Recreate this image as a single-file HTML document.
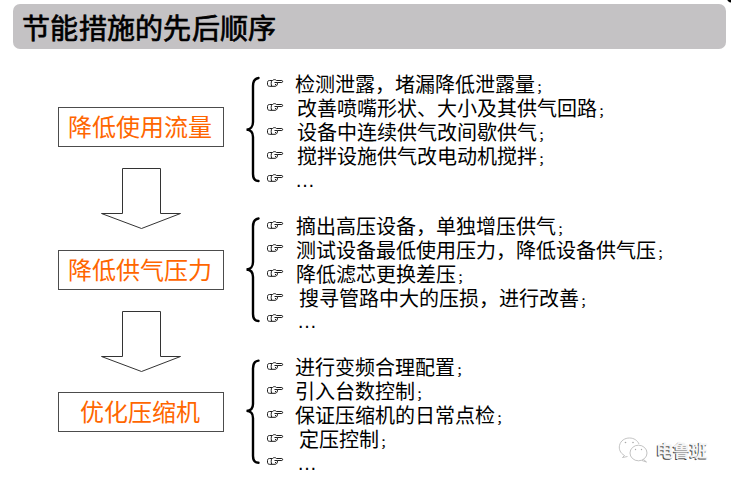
<!DOCTYPE html>
<html lang="zh-CN">
<head>
<meta charset="utf-8">
<style>
html,body{margin:0;padding:0;background:#fff;}
body{width:731px;height:483px;position:relative;overflow:hidden;font-family:"Liberation Sans",sans-serif;}
.abs{position:absolute;white-space:nowrap;}
#bar{position:absolute;left:13px;top:4px;width:713px;height:45px;border-radius:7px;background:#c4c2c4;}
#title{left:22px;top:13px;letter-spacing:0.3px;font-size:28px;line-height:34px;font-weight:normal;color:#000;-webkit-text-stroke:0.7px #000;}
.box{position:absolute;left:58px;width:164px;height:38px;border:1px solid #4c4c4c;box-sizing:content-box;}
.bt{position:absolute;left:-2px;right:0;top:0.5px;text-align:center;font-size:24px;line-height:38px;color:#ff6600;}
.ln{font-size:20px;line-height:24px;color:#000;}
.sc{display:inline-block;font-size:14px;transform:translate(0.5px,0.5px) scaleY(0.8);transform-origin:0 70%;}
svg{position:absolute;left:0;top:0;}
#wm{left:656px;top:440px;font-size:17.5px;line-height:22px;font-weight:bold;color:#f4f4f4;text-shadow:-1px 1px 0.6px #444;}
</style>
</head>
<body>
<div id="bar"></div>
<div id="title" class="abs">节能措施的先后顺序</div>

<div class="box" style="top:107px"><div class="bt">降低使用流量</div></div>
<div class="box" style="top:250px"><div class="bt">降低供气压力</div></div>
<div class="box" style="top:392px"><div class="bt">优化压缩机</div></div>

<svg width="731" height="483" viewBox="0 0 731 483">
<defs>
<g id="hand" fill="none" stroke="#1a1a1a" stroke-width="1">
  <path d="M2.5 2.5 H5.5 C6.5 1.3 8.5 1.3 9.5 2.5 H14.8 C15.9 2.5 15.9 4.5 14.8 4.5 H10.5 C10.5 6.5 10 8.3 8 8.3 H2.5 C1.2 8.3 0.5 7.5 0.5 6.2 V4.6 C0.5 3.2 1.2 2.5 2.5 2.5 Z"/>
  <path d="M4.8 2.5 C4 4 4 6.7 4.8 8.3"/>
  <path d="M7.5 4.5 H10.5 M8 6.5 H9"/>
</g>
</defs>
<circle cx="731.5" cy="-2" r="4.6" fill="#000"/>
<!-- arrows -->
<path d="M122.5 168.5 H160.5 V213.5 H180.5 L141.5 228.5 L101.5 213.5 H122.5 Z" fill="#fff" stroke="#333" stroke-width="1"/>
<path d="M122.5 311.5 H160.5 V356.5 H180.5 L141.5 371.5 L101.5 356.5 H122.5 Z" fill="#fff" stroke="#333" stroke-width="1"/>
<!-- brackets -->
<g fill="none" stroke="#000" stroke-width="2.4" stroke-linecap="round">
<path d="M258.5 78 C255 78.5 253 81 253 86 V122 C253 126.5 250.5 129.5 246.5 129.6 C250.5 129.8 253 132.5 253 137 V174 C253 178.5 255 181 258.5 181"/>
<path d="M258.5 218.5 C255 219 253 221.5 253 226.5 V262 C253 266.5 250.5 269.4 246.5 269.5 C250.5 269.7 253 272.5 253 277 V314 C253 318.5 255 321 258.5 321"/>
<path d="M258.5 360.6 C255 361 253 363.5 253 368.5 V404 C253 408.5 250.5 410.8 246.5 410.9 C250.5 411 253 413.5 253 418 V456 C253 460.5 255 462.7 258.5 462.7"/>
</g>
<!-- hands -->
<use href="#hand" x="267" y="78"/>
<use href="#hand" x="267" y="102"/>
<use href="#hand" x="267" y="126"/>
<use href="#hand" x="267" y="150"/>
<use href="#hand" x="267" y="173"/>
<use href="#hand" x="267" y="220"/>
<use href="#hand" x="267" y="243"/>
<use href="#hand" x="267" y="268"/>
<use href="#hand" x="267" y="292"/>
<use href="#hand" x="267" y="313"/>
<use href="#hand" x="267" y="361"/>
<use href="#hand" x="267" y="385"/>
<use href="#hand" x="267" y="409"/>
<use href="#hand" x="267" y="433"/>
<use href="#hand" x="267" y="456"/>
</svg>

<div class="abs ln" style="left:295px;top:73px">检测泄露，堵漏降低泄露量<span class="sc">；</span></div>
<div class="abs ln" style="left:297px;top:97px">改善喷嘴形状、大小及其供气回路<span class="sc">；</span></div>
<div class="abs ln" style="left:297px;top:121px">设备中连续供气改间歇供气<span class="sc">；</span></div>
<div class="abs ln" style="left:297px;top:145px">搅拌设施供气改电动机搅拌<span class="sc">；</span></div>
<div class="abs ln" style="left:295px;top:168px">…</div>

<div class="abs ln" style="left:296px;top:215px">摘出高压设备，单独增压供气<span class="sc">；</span></div>
<div class="abs ln" style="left:296px;top:239px">测试设备最低使用压力，降低设备供气压<span class="sc">；</span></div>
<div class="abs ln" style="left:296px;top:263px">降低滤芯更换差压<span class="sc">；</span></div>
<div class="abs ln" style="left:299px;top:287px">搜寻管路中大的压损，进行改善<span class="sc">；</span></div>
<div class="abs ln" style="left:297px;top:309px">…</div>

<div class="abs ln" style="left:295px;top:356px">进行变频合理配置<span class="sc">；</span></div>
<div class="abs ln" style="left:295px;top:380px">引入台数控制<span class="sc">；</span></div>
<div class="abs ln" style="left:295px;top:404px">保证压缩机的日常点检<span class="sc">；</span></div>
<div class="abs ln" style="left:299px;top:428px">定压控制<span class="sc">；</span></div>
<div class="abs ln" style="left:297px;top:451px">…</div>

<svg width="731" height="483" viewBox="0 0 731 483" style="pointer-events:none">
<g fill="none" stroke="#b4b4b4" stroke-width="0.8">
<path d="M624.5 455.5 C620 453 618.8 449 619.5 445.5 C620.5 440.5 625 438 629.5 438 C634 438 637.5 440.5 639 444"/>
<path d="M624.5 455.5 L622.5 457.5 L627.5 456.5"/>
<ellipse cx="638.5" cy="453" rx="8.5" ry="7.8" fill="#fff"/>
<path d="M643.5 459.5 L646.5 462 L642 460.5"/>
</g>
<g fill="#aaa">
<circle cx="625.5" cy="442.5" r="0.8"/><circle cx="633" cy="442.5" r="0.8"/>
<circle cx="635.5" cy="449.5" r="0.7"/><circle cx="641.5" cy="449.5" r="0.7"/>
</g>
</svg>
<div id="wm" class="abs">电鲁班</div>
</body>
</html>
